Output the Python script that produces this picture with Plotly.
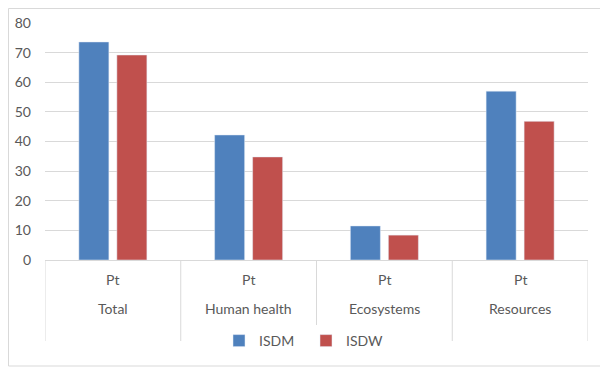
import plotly.graph_objects as go

categories = ["Total", "Human health", "Ecosystems", "Resources"]
units = ["Pt", "Pt", "Pt", "Pt"]
isdm = [73.6, 42.2, 11.5, 57.0]
isdw = [69.2, 34.8, 8.4, 46.8]

# the page adds an 8px body margin, so the figure is laid out 8px smaller
OFF = 8
W, H = 608 - OFF, 370 - OFF
ml, mt = 45 - OFF, 23 - OFF
pw, ph = 543, 237
mr, mb = W - ml - pw, H - mt - ph

def py(pix):
    # page row -> paper y
    return (mt + ph - (pix - OFF)) / ph

def px(pix):
    return (pix - OFF - ml) / pw

fig = go.Figure()
fig.add_trace(go.Bar(x=categories, y=isdm, name="ISDM", marker_color="#4F81BD"))
fig.add_trace(go.Bar(x=categories, y=isdw, name="ISDW", marker_color="#C0504D"))

# chart border
fig.add_shape(type="rect", xref="paper", yref="paper",
              x0=(0.5 - ml) / pw, x1=(W - 0.5 - ml) / pw, y0=py(366), y1=(mt + ph - 0.5) / ph,
              line=dict(color="#d9d9d9", width=1), layer="below")

# category axis dividers and labels
for i in range(len(categories) + 1):
    fig.add_shape(type="line", xref="x", yref="paper", x0=i - 0.5, x1=i - 0.5,
                  y0=0, y1=py(341), line=dict(color="#d9d9d9", width=1))
for c, u in zip(categories, units):
    fig.add_annotation(x=c, xref="x", yref="paper", y=py(279), text=u,
                       showarrow=False, yanchor="middle")
    fig.add_annotation(x=c, xref="x", yref="paper", y=py(308), text=c,
                       showarrow=False, yanchor="middle")

fig.update_layout(
    width=W, height=H,
    margin=dict(l=ml, r=mr, t=mt, b=mb),
    barmode="group", bargap=0.44, bargroupgap=0.21,
    plot_bgcolor="white", paper_bgcolor="white",
    font=dict(family="Lato", size=14, color="#595959"),
    legend=dict(orientation="h", x=px(306), xanchor="center", y=py(341), yanchor="middle",
                font=dict(size=14), entrywidth=42, itemwidth=30),
)
fig.update_yaxes(range=[0, 80], dtick=10, showgrid=True, gridcolor="#d9d9d9",
                 zeroline=False, showline=False, ticks="", automargin=False,
                 ticklabelstandoff=13)
fig.update_xaxes(showline=True, linecolor="#d9d9d9", showticklabels=False,
                 ticks="", automargin=False, range=[-0.5, 3.5])

fig.write_html("out.html")
